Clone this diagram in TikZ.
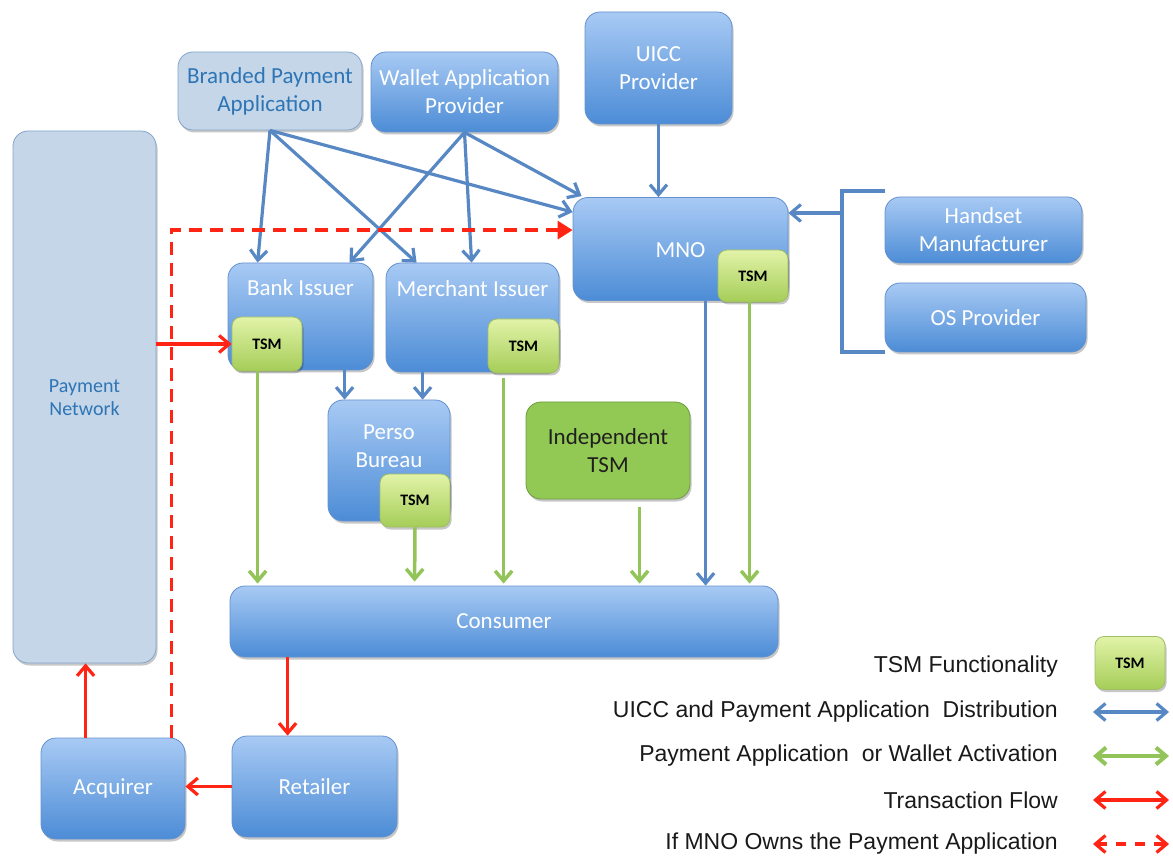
\documentclass[tikz,border=0pt]{standalone}
\usepackage{fontspec}
\setmainfont{Carlito}
\newfontfamily\legendfont{Liberation Sans}
\usetikzlibrary{arrows.meta,shadows,calc}
\definecolor{bxtop}{RGB}{168,202,244}
\definecolor{bxbot}{RGB}{76,140,214}
\definecolor{bxdraw}{RGB}{100,145,205}
\definecolor{pale}{RGB}{197,214,232}
\definecolor{paledraw}{RGB}{130,165,205}
\definecolor{paletext}{RGB}{46,117,182}
\definecolor{tsmtop}{RGB}{226,243,168}
\definecolor{tsmbot}{RGB}{165,205,88}
\definecolor{tsmdraw}{RGB}{160,190,100}
\definecolor{indfill}{RGB}{146,200,84}
\definecolor{inddraw}{RGB}{110,155,65}
\definecolor{arblue}{RGB}{88,136,196}
\definecolor{argreen}{RGB}{146,196,90}
\definecolor{arred}{RGB}{255,36,20}
\tikzset{
  shad/.style={drop shadow={shadow xshift=1.5pt,shadow yshift=-2.5pt,opacity=0.22,fill=black}},
  bbox/.style={shad,draw=bxdraw,line width=0.8pt,top color=bxtop,bottom color=bxbot,rounded corners=15pt,text=white,font=\fontsize{23}{28}\selectfont,align=center,inner sep=0pt},
  pbox/.style={shad,draw=paledraw,line width=0.8pt,fill=pale,rounded corners=15pt,text=paletext,font=\fontsize{23}{28}\selectfont,align=center,inner sep=0pt},
  tbox/.style={shad,draw=tsmdraw,line width=0.8pt,top color=tsmtop,bottom color=tsmbot,rounded corners=9pt,text=black,font=\bfseries\fontsize{16}{19}\selectfont,inner sep=0pt},
  ibox/.style={shad,draw=inddraw,line width=0.8pt,fill=indfill,rounded corners=15pt,text=black!88,font=\fontsize{23}{28}\selectfont,align=center,inner sep=0pt},
  lbl/.style={text=white,font=\fontsize{23}{28}\selectfont,align=center,inner sep=0pt},
  plbl/.style={text=paletext,font=\fontsize{20}{23}\selectfont,align=center,inner sep=0pt},
  legtext/.style={anchor=east,inner sep=0pt,font=\legendfont\fontsize{23}{27}\selectfont,text=black!90},
  tip/.style={-{Straight Barb[length=10pt,width=17pt]}},
  tips/.style={{Straight Barb[length=10pt,width=17pt]}-{Straight Barb[length=10pt,width=17pt]}},
  barrow/.style={draw=arblue,line width=3.2pt,tip},
  garrow/.style={draw=argreen,line width=3.5pt,tip},
  rarrow/.style={draw=arred,line width=3.2pt,tip},
  rdash/.style={draw=arred,line width=3.2pt,dash pattern=on 13pt off 8pt,-{Triangle[length=15pt,width=18pt]}},
}
\begin{document}
\begin{tikzpicture}[x=1pt,y=-1pt]
\useasboundingbox (0,0) rectangle (1173,858);
% boxes
\node[pbox,minimum width=143pt,minimum height=532pt] (paynet) at (84.5,397) {};
\node[plbl] (paynetl) at (84.5,398) {Payment\\Network};
\node[pbox,minimum width=184pt,minimum height=78pt] (brand) at (270,91) {Branded Payment\\Application};
\node[bbox,minimum width=187pt,minimum height=80pt] (wallet) at (464.5,92) {Wallet Application\\Provider};
\node[bbox,minimum width=147pt,minimum height=112pt] (uicc) at (658.5,68) {UICC\\Provider};
\node[bbox,minimum width=215pt,minimum height=103pt] (mno) at (680.5,249) {};
\node[lbl] (mnol) at (680.5,250) {MNO};
\node[tbox,minimum width=70pt,minimum height=52pt] (mnotsm) at (753,276) {TSM};
\node[bbox,minimum width=197pt,minimum height=66pt] (hand) at (983.5,230) {Handset\\Manufacturer};
\node[bbox,minimum width=201pt,minimum height=69pt] (os) at (985.5,317.5) {OS Provider};
\node[bbox,minimum width=145pt,minimum height=107pt] (bank) at (300.5,316.5) {};
\node[lbl] (bankl) at (300.5,288) {Bank Issuer};
\node[tbox,minimum width=70pt,minimum height=54pt] (banktsm) at (267,344) {TSM};
\node[bbox,minimum width=173pt,minimum height=109pt] (merch) at (472.5,317.5) {};
\node[lbl] (merchl) at (472.5,289) {Merchant Issuer};
\node[tbox,minimum width=71pt,minimum height=54pt] (merchtsm) at (523.5,346) {TSM};
\node[bbox,minimum width=122pt,minimum height=121pt] (perso) at (389,460.5) {};
\node[lbl] (persol) at (389,446) {Perso\\Bureau};
\node[tbox,minimum width=70pt,minimum height=53pt] (persotsm) at (415,500.5) {TSM};
\node[ibox,minimum width=164pt,minimum height=97pt] (indep) at (608,450.5) {Independent\\TSM};
\node[bbox,minimum width=548pt,minimum height=71pt] (cons) at (504,621.5) {Consumer};
\node[bbox,minimum width=165pt,minimum height=101pt] (ret) at (314.5,786.5) {Retailer};
\node[bbox,minimum width=144pt,minimum height=101pt] (acq) at (113,788.5) {Acquirer};
% bracket
\coordinate (brt) at (885,191);
\coordinate (brb) at (885,352);
\coordinate (brm) at (842,213);
\draw[arblue,line width=3.2pt] (brt) -| (brb -| brm) -- (brb);
\draw[barrow] (brm) -- (brm -| mno.east);
% blue arrows
\draw[barrow] (brand.south) -- ($(bank.north west)+(30,0)$);
\draw[barrow] (brand.south) -- ($(merch.north west)+(31,0)$);
\draw[barrow] (brand.south) -- ($(mno.north west)+(0,15)$);
\draw[barrow] (wallet.south) -- ($(bank.north west)+(122,0)$);
\draw[barrow] (wallet.south) -- ($(merch.north west)+(86,0)$);
\draw[barrow] (wallet.south) -- ($(mno.north west)+(9,-1)$);
\draw[barrow] (uicc.south) -- (uicc.south |- mno.north);
\draw[barrow] ($(bank.south west)+(117,0)$) -- ($(perso.north west)+(17,0)$);
\draw[barrow] ($(merch.south west)+(37,0)$) -- ($(perso.north west)+(95,0)$);
\draw[barrow] ($(mno.south west)+(133,0)$) -- ($(cons.north west)+(476,0)$);
% green arrows
\draw[garrow] ($(banktsm.south west)+(26,0)$) -- ($(cons.north west)+(28,-2)$);
\draw[garrow] (persotsm.south) -- ($(cons.north west)+(185,-4)$);
\draw[garrow] ($(merchtsm.south west)+(16,5)$) -- ($(cons.north west)+(274,-2)$);
\draw[garrow] ($(indep.south west)+(114,8)$) -- ($(cons.north west)+(410,-2)$);
\draw[garrow] ($(mnotsm.south west)+(32,0)$) -- ($(cons.north west)+(520,-2)$);
% red arrows
\draw[rarrow] (banktsm.west -| paynet.east) -- (banktsm.west);
\draw[rarrow] ($(cons.south west)+(58,0)$) -- ($(ret.north west)+(56,0)$);
\draw[rarrow] (ret.west) -- (ret.west -| acq.east);
\draw[rarrow] ($(acq.north west)+(45,0)$) -- ($(paynet.south west)+(73,0)$);
\draw[rdash] ($(acq.north west)+(131,0)$) |- ($(mno.north west)+(0,33)$);
% legend
\node[tbox,minimum width=70pt,minimum height=53pt] (legtsm) at (1130,663) {TSM};
\node[legtext] (lt1) at (1058,667) {TSM Functionality};
\node[legtext] (lt2) at (1058,712) {UICC and Payment Application\ \ Distribution};
\node[legtext] (lt3) at (1058,756) {Payment Application\ \ or Wallet Activation};
\node[legtext] (lt4) at (1058,800) {Transaction Flow};
\node[legtext] (lt5) at (1058,844) {If MNO Owns the Payment Application};
\coordinate (la2) at (1093,712); \coordinate (lb2) at (1169,712);
\coordinate (la3) at (1093,756); \coordinate (lb3) at (1169,756);
\coordinate (la4) at (1093,800); \coordinate (lb4) at (1169,800);
\coordinate (la5) at (1093,844); \coordinate (lb5) at (1169,844);
\draw[barrow,tips] (la2) -- (lb2);
\draw[garrow,line width=4pt,tips] (la3) -- (lb3);
\draw[rarrow,tips] (la4) -- (lb4);
\draw[rarrow,dash pattern=on 10pt off 9pt,tips] (la5) -- (lb5);
\end{tikzpicture}
\end{document}
